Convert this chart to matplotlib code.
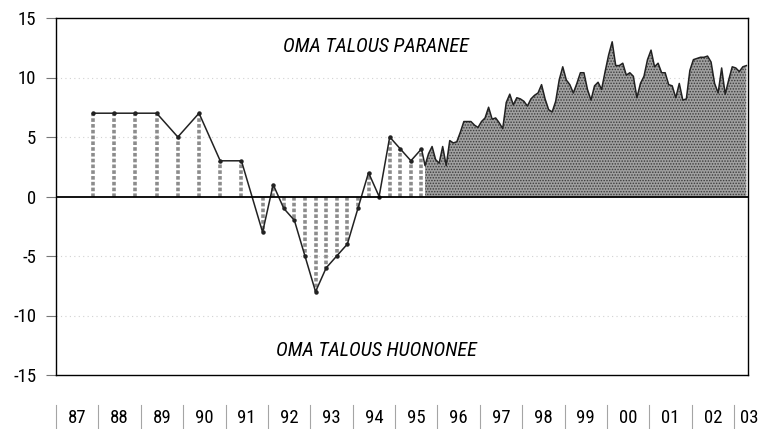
import matplotlib
matplotlib.use("Agg")
import matplotlib.pyplot as plt
from matplotlib import font_manager
import numpy as np

# pick a condensed face if one is installed
narrow = 'Liberation Sans'
for name in ['Liberation Sans Narrow', 'Roboto Condensed', 'DejaVu Sans Condensed']:
    try:
        font_manager.findfont(name, fallback_to_default=False)
        narrow = name
        break
    except Exception:
        pass
plt.rcParams['font.family'] = [narrow, 'DejaVu Sans']
plt.rcParams['hatch.linewidth'] = 0.7

# semi-annual / quarterly surveys 1987-1995
early_dates = ['1987-11', '1988-05', '1988-11', '1989-05', '1989-11', '1990-05',
               '1990-11', '1991-05', '1991-11', '1992-02', '1992-05', '1992-08',
               '1992-11', '1993-02', '1993-05', '1993-08', '1993-11', '1994-02',
               '1994-05', '1994-08', '1994-11', '1995-02', '1995-05', '1995-08']
early_values = [7, 7, 7, 7, 5, 7, 3, 3, -3, 1, -1, -2, -5, -8, -6, -5, -4, -1,
                2, 0, 5, 4, 3, 4]

# monthly surveys Sep 1995 - Apr 2003
monthly_start = '1995-09'
monthly_values = [
    2.6, 3.6, 4.2, 3.1,                                               # 1995
    2.8, 4.2, 2.6, 4.7, 4.5, 4.6, 5.4, 6.3, 6.3, 6.3, 6.0, 5.8,       # 1996
    6.3, 6.6, 7.5, 6.5, 6.6, 6.2, 5.7, 7.9, 8.6, 7.7, 8.3, 8.2,       # 1997
    8.0, 7.6, 8.2, 8.5, 8.7, 9.4, 8.2, 7.3, 7.1, 8.0, 9.8, 10.9,      # 1998
    9.8, 9.4, 8.7, 9.5, 10.4, 10.4, 9.0, 8.1, 9.3, 9.6, 9.0, 10.5,    # 1999
    11.9, 13.0, 11.0, 11.0, 11.2, 10.2, 10.4, 10.1, 8.3, 9.5, 10.1, 11.5,  # 2000
    12.3, 10.9, 11.2, 10.4, 10.4, 9.4, 9.3, 8.3, 9.5, 8.1, 8.2, 10.6,  # 2001
    11.5, 11.6, 11.7, 11.7, 11.8, 11.3, 9.5, 8.7, 10.8, 8.6, 9.8, 10.9,  # 2002
    10.8, 10.5, 10.9, 11.0,                                           # 2003
]

year_labels = ['87', '88', '89', '90', '91', '92', '93', '94', '95', '96',
               '97', '98', '99', '00', '01', '02', '03']
y_ticks = [-15, -10, -5, 0, 5, 10, 15]


def to_year(s):
    y, m = s.split('-')
    return int(y) + (int(m) - 0.5) / 12


t_early = np.array([to_year(d) for d in early_dates])
t0 = to_year(monthly_start)
t_month = t0 + np.arange(len(monthly_values)) / 12
v_month = np.array(monthly_values)

fig = plt.figure(figsize=(7.61, 4.29), dpi=100)
ax = fig.add_axes([56 / 761, 1 - 375 / 429, (748 - 56) / 761, (375 - 18) / 429])

# grid
for y in [-10, -5, 5, 10]:
    ax.axhline(y, color='#d2d2d2', lw=0.8, ls=(0, (1, 3)), zorder=0)

# monthly area
ax.fill_between(t_month, 0, v_month, facecolor='#a0a0a0', edgecolor='#3a3a3a',
                hatch='......', lw=0, zorder=2)

# early vertical hatched bars
ax.vlines(t_early, 0, early_values, colors='#8c8c8c', lw=2.6,
          linestyles=(0, (1, 0.6)), zorder=2)

# outline
t_all = np.concatenate([t_early, t_month])
v_all = np.concatenate([early_values, v_month])
ax.plot(t_all, v_all, color='#222222', lw=1.1, zorder=4)
ax.plot(t_early, early_values, 'o', color='#222222', ms=2.2, zorder=4)

ax.axhline(0, color='black', lw=1.3, zorder=5)

ax.set_xlim(1987, 2003.33)
ax.set_ylim(-15, 15)
ax.set_xticks([])
ax.set_yticks(y_ticks)
ax.set_yticklabels([str(v) for v in y_ticks], fontsize=13.5)
ax.tick_params(axis='y', direction='out', length=7.2, width=0.8, color='#777777', pad=7)
for s in ax.spines.values():
    s.set_color('black')
    s.set_linewidth(1.0)

ax.text(1994.55, 12.6, 'OMA TALOUS PARANEE', ha='center', va='center',
        fontsize=14.5, style='italic')
ax.text(1994.55, -12.9, 'OMA TALOUS HUONONEE', ha='center', va='center',
        fontsize=14.5, style='italic')

# year labels under the chart
trans = ax.get_xaxis_transform()
for i, lab in enumerate(year_labels):
    x = 1987 + i
    ax.plot([x, x], [-0.084, -0.151], transform=trans, color='#a5a5a5', lw=0.8,
            clip_on=False)
    xc = x + 0.5 if i < len(year_labels) - 1 else 2003.36
    ax.text(xc, -0.12, lab, transform=trans, ha='center', va='center', fontsize=13.5)

fig.savefig('out.png', dpi=100)
